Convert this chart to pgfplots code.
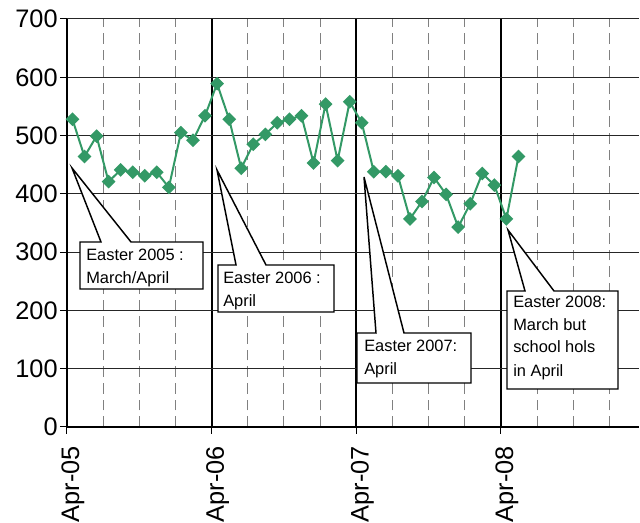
\documentclass[border=0pt]{standalone}
\usepackage{fontspec}
\setmainfont{Liberation Sans}
\usepackage{pgfplots}
\pgfplotsset{compat=1.18}
\definecolor{sea}{RGB}{51,153,102}

\begin{document}
\begin{tikzpicture}
\begin{axis}[
  scale only axis, width=429pt, height=306pt,
  xmin=0, xmax=47.45, ymin=0, ymax=700,
  axis x line*=bottom, axis y line*=left,
  axis line style={black, line width=1.5pt},
  xtick={0,12,24,36}, xticklabels={Apr-05,Apr-06,Apr-07,Apr-08},
  minor xtick={3,6,9,15,18,21,27,30,33,39,42,45},
  ytick={0,100,...,700},
  xmajorgrids, xminorgrids, ymajorgrids,
  major x grid style={black, line width=1.5pt},
  minor x grid style={gray, line width=0.75pt, dash pattern=on 8pt off 4.5pt},
  major y grid style={black!85, line width=0.75pt},
  tick align=outside, major tick length=5pt, minor tick length=0pt,
  tick style={black, line width=0.75pt},
  ticklabel style={font=\fontsize{19}{19}\selectfont},
  /pgf/number format/assume math mode=true,
  xticklabel style={xshift=4.5pt, yshift=-6pt, rotate=90, anchor=east},
  yticklabel style={xshift=1.5pt},
]
\addplot[sea, line width=1.5pt, mark=square*, mark size=2.9pt, mark options={rotate=45, solid}] coordinates {
(0.45,528) (1.45,464) (2.45,499) (3.45,421) (4.45,441) (5.45,437)
(6.45,431) (7.45,437) (8.45,411) (9.45,505) (10.45,492) (11.45,534)
(12.45,589) (13.45,528) (14.45,444) (15.45,485) (16.45,502) (17.45,522)
(18.45,528) (19.45,534) (20.45,453) (21.45,554) (22.45,457) (23.45,558)
(24.45,522) (25.45,438) (26.45,438) (27.45,431) (28.45,357) (29.45,387)
(30.45,428) (31.45,399) (32.45,343) (33.45,383) (34.45,435) (35.45,415)
(36.45,357) (37.45,464)
};
\end{axis}
\begin{scope}[shift={(-50.25pt,320.25pt)}, x=0.75pt, y=-0.75pt]
\tikzset{cbox/.style={fill=white, draw=black, line width=1.1pt, line join=miter},
         ctext/.style={anchor=base west, inner sep=0pt, font=\fontsize{12.3}{14}\selectfont}}
\filldraw[cbox] (80,242) -- (101,242) -- (72,168) -- (131,242) -- (203,242) -- (203,289) -- (80,289) -- cycle;
\node[ctext] at (86,261) {Easter 2005 :};
\node[ctext] at (86,284) {March/April};
\filldraw[cbox] (218,265) -- (236,265) -- (217,170) -- (266,265) -- (334,265) -- (334,312) -- (218,312) -- cycle;
\node[ctext] at (223,284) {Easter 2006 :};
\node[ctext] at (223,307) {April};
\filldraw[cbox] (357,333) -- (376,333) -- (364,177) -- (404,333) -- (471,333) -- (471,383) -- (357,383) -- cycle;
\node[ctext] at (364,352) {Easter 2007:};
\node[ctext] at (364,375) {April};
\filldraw[cbox] (507,291) -- (525,291) -- (508,230) -- (554,291) -- (618,291) -- (618,389) -- (507,389) -- cycle;
\node[ctext] at (513,308) {Easter 2008:};
\node[ctext] at (513,331) {March but};
\node[ctext] at (513,353) {school hols};
\node[ctext] at (513,377) {in April};
\pgfresetboundingbox
\useasboundingbox (0,0) rectangle (640,523);
\end{scope}
\end{tikzpicture}
\end{document}
